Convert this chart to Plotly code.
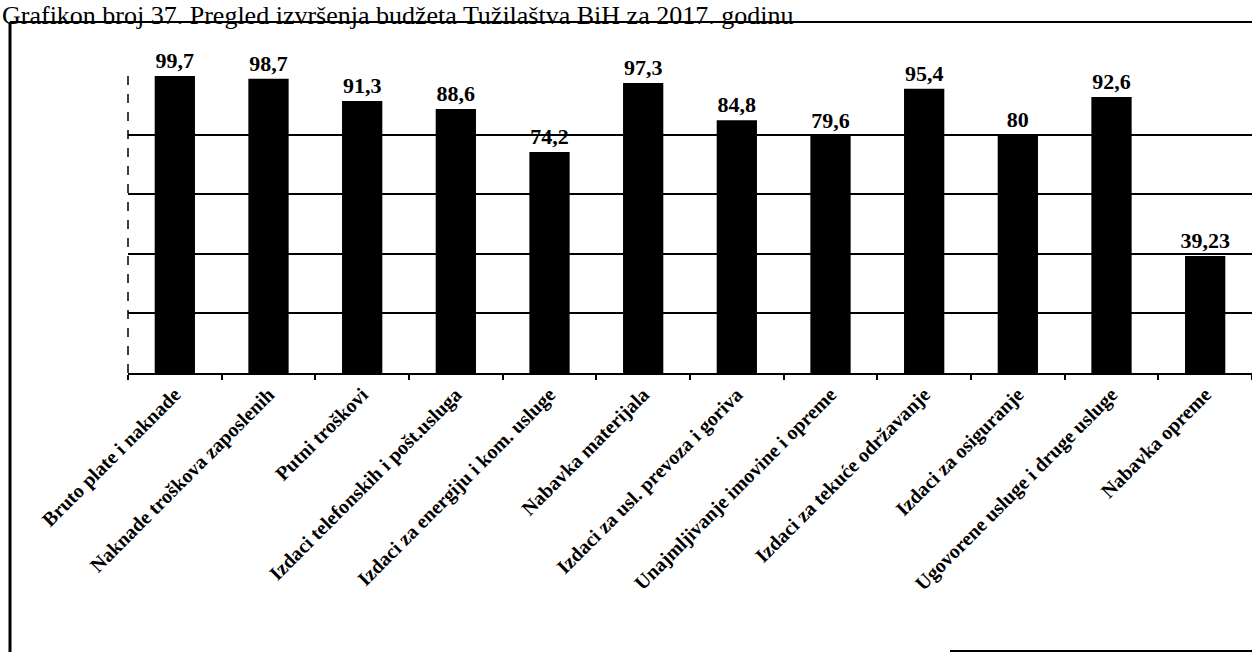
import plotly.graph_objects as go

categories = [
    "Bruto plate i naknade",
    "Naknade troškova zaposlenih",
    "Putni troškovi",
    "Izdaci telefonskih i pošt.usluga",
    "Izdaci za energiju i kom. usluge",
    "Nabavka materijala",
    "Izdaci za usl. prevoza i goriva",
    "Unajmljivanje imovine i opreme",
    "Izdaci za tekuće održavanje",
    "Izdaci za osiguranje",
    "Ugovorene usluge i druge usluge",
    "Nabavka opreme",
]
values = [99.7, 98.7, 91.3, 88.6, 74.2, 97.3, 84.8, 79.6, 95.4, 80, 92.6, 39.23]
labels = [str(v).replace(".", ",") for v in values]
title_text = "Grafikon broj 37. Pregled izvršenja budžeta Tužilaštva BiH za 2017. godinu"

W, H = 1252, 654
ML, MR, MT, MB = 128, 0, 75, 281
PW = W - ML - MR
PH = H - MT - MB

def px(x):
    return (x - ML) / PW

def py(y):
    return (H - MB - y) / PH

fig = go.Figure(go.Bar(
    x=categories, y=values, text=labels, textposition="outside",
    marker=dict(color="black", line=dict(width=0)),
    textfont=dict(family="Liberation Serif", size=22, color="black"),
    texttemplate="<b>%{text}</b>",
    constraintext="none",
    cliponaxis=False,
))

shapes = [
    dict(type="line", xref="paper", yref="paper", x0=0, x1=0, y0=0, y1=1,
         line=dict(color="black", width=1.5, dash="dash")),
    dict(type="line", xref="paper", yref="paper", x0=px(10), x1=px(10), y0=py(652), y1=py(22),
         line=dict(color="black", width=3)),
    dict(type="line", xref="paper", yref="paper", x0=px(10), x1=px(1260), y0=py(22), y1=py(22),
         line=dict(color="black", width=2)),
    dict(type="line", xref="paper", yref="paper", x0=px(950), x1=px(1260), y0=py(651), y1=py(651),
         line=dict(color="black", width=2)),
]

fig.update_layout(
    width=W, height=H,
    margin=dict(l=ML, r=MR, t=MT, b=MB, pad=0, autoexpand=False),
    paper_bgcolor="white", plot_bgcolor="white",
    bargap=0.57,
    showlegend=False,
    shapes=shapes,
    annotations=[dict(
        text=title_text, xref="paper", yref="paper", x=px(0), y=py(-1),
        xanchor="left", yanchor="top", showarrow=False,
        font=dict(family="Liberation Serif", size=26, color="black"),
    )],
    xaxis=dict(
        automargin=False,
        showline=True, linecolor="black", linewidth=2,
        ticks="outside", tickson="boundaries", ticklen=5, tickcolor="black", tickwidth=1.5,
        tickangle=-45, showgrid=False,
        tickfont=dict(family="Liberation Serif", size=20, color="black"),
        tickprefix="<b>", ticksuffix="</b>",
    ),
    yaxis=dict(
        automargin=False,
        range=[0, 100], dtick=20, showgrid=True, gridcolor="black", gridwidth=2,
        showticklabels=False, zeroline=False, ticks="",
    ),
)

fig.write_html("out.html", config={"displayModeBar": False},
               post_script="document.body.style.margin='0';document.body.style.overflow='hidden';")
